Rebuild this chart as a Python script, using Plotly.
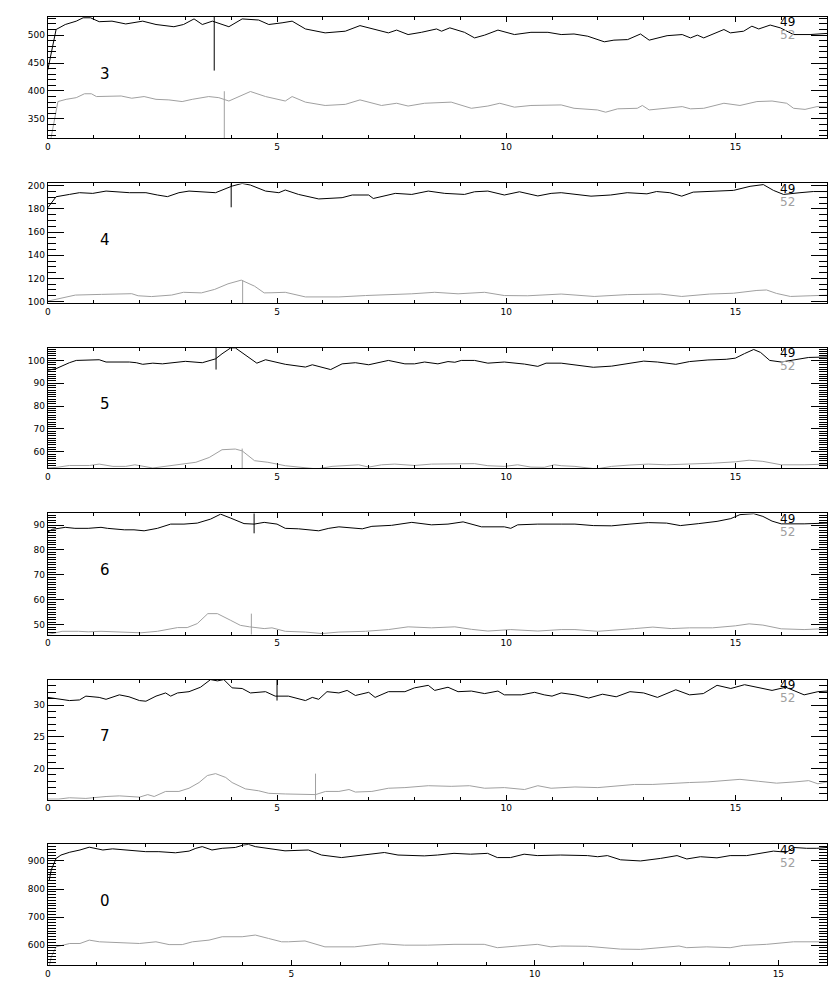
import plotly.graph_objects as go

# ---------------- data ----------------
panel_labels = ["3", "4", "5", "6", "7", "0"]
series_labels = ["49", "52"]
x_max = [17, 17, 17, 17, 17, 16]
y_min = [315.7, 98.6, 52.8, 46.0, 15.1, 528.6]
y_max = [532.6, 202.0, 105.5, 94.7, 33.95, 959.0]
y_major = [50, 20, 10, 10, 5, 100]
y_minor = [10, 5, 1, 1, 1, 10]
x_ticks = [0, 5, 10, 15]

# panel "3"
b3_x = [0, 0.18, 0.38, 0.62, 0.77, 0.93, 1.12, 1.4, 1.7, 2.07, 2.36, 2.75, 2.96, 3.19, 3.37, 3.59, 3.95, 4.24, 4.6, 4.82,
        5.11, 5.33, 5.62, 6.05, 6.49, 6.81, 7.43, 7.61, 7.86, 8.15, 8.48, 8.59, 8.77, 9.09, 9.31, 9.53, 9.82, 10.18, 10.54, 10.91,
        11.2, 11.48, 11.78, 12.14, 12.35, 12.65, 12.93, 13.12, 13.51, 13.84, 14.02, 14.17, 14.31, 14.75, 14.89, 15.18, 15.36, 15.51, 15.76, 15.98,
        16.27, 16.63, 17.0]
b3_y = [438, 510, 519, 525, 531, 531, 524, 525, 520, 525, 519, 515, 519, 529, 519, 525, 515, 529, 527, 519,
        522, 525, 511, 504, 507, 517, 504, 509, 501, 505, 511, 507, 513, 505, 495, 500, 509, 501, 505, 505,
        501, 502, 498, 488, 491, 492, 502, 491, 499, 501, 495, 500, 495, 510, 504, 507, 516, 511, 518, 513,
        501, 501, 503]
g3_x = [0.07, 0.22, 0.4, 0.62, 0.8, 0.95, 1.06, 1.4, 1.6, 1.83, 2.1, 2.36, 2.64, 2.93, 3.15, 3.51, 3.73, 3.95, 4.17, 4.42,
        4.75, 4.89, 5.18, 5.33, 5.62, 6.05, 6.49, 6.81, 7.28, 7.61, 7.86, 8.22, 8.8, 9.24, 9.6, 9.86, 10.18, 10.54, 10.91, 11.2,
        11.48, 11.99, 12.17, 12.43, 12.86, 12.97, 13.12, 13.37, 13.66, 13.84, 14.02, 14.31, 14.75, 15.1, 15.47, 15.8, 16.12, 16.27, 16.52, 16.78,
        17.0]
g3_y = [316, 381, 385, 388, 395, 395, 390, 390, 391, 387, 390, 385, 384, 381, 385, 390, 388, 382, 390, 399,
        390, 387, 382, 390, 380, 374, 376, 384, 374, 378, 373, 378, 380, 369, 373, 378, 371, 374, 374, 375,
        369, 366, 362, 368, 369, 374, 366, 368, 371, 372, 368, 369, 378, 374, 381, 382, 378, 369, 367, 372,
        371]

# panel "4"
b4_x = [0, 0.18, 0.47, 0.69, 0.98, 1.27, 1.78, 2.14, 2.39, 2.61, 2.86, 3.08, 3.66, 4.02, 4.24, 4.42, 4.75, 5.04, 5.18, 5.47,
        5.91, 6.42, 6.64, 7.0, 7.1, 7.58, 7.94, 8.3, 8.66, 9.09, 9.31, 9.6, 9.96, 10.29, 10.69, 10.98, 11.2, 11.56, 11.85, 12.28,
        12.64, 13.07, 13.28, 13.57, 13.83, 14.08, 14.52, 14.96, 15.32, 15.61, 15.83, 16.05, 16.41, 16.7, 17.0]
b4_y = [181, 190.5, 192.5, 194, 193.4, 195.4, 194, 194, 192, 190.6, 194, 195.4, 194, 199.7, 202, 200.6, 195.4, 194, 196.3, 192.5,
        188.6, 189.7, 192, 192, 189, 193.4, 192.5, 195.4, 193.4, 192.5, 194.8, 195.4, 192, 194.8, 191.2, 193.4, 194, 192.5, 191, 192,
        194, 193, 195, 194, 191, 194.5, 195, 196, 199.5, 201, 196, 192.5, 194, 195, 195]
g4_x = [0, 0.2, 0.6, 1.17, 1.83, 1.97, 2.26, 2.7, 2.96, 3.35, 3.64, 3.93, 4.22, 4.51, 4.72, 4.89, 5.18, 5.62, 6.35, 6.93,
        7.5, 7.94, 8.44, 8.95, 9.53, 9.96, 10.47, 10.98, 11.2, 11.92, 12.64, 13.36, 13.83, 14.44, 14.96, 15.47, 15.68, 15.9, 16.2, 16.63,
        17.0]
g4_y = [100.4, 102, 105.6, 106.2, 106.8, 105, 104.3, 105.6, 108, 107.5, 110.5, 115.3, 118.5, 113.3, 107.5, 107.6, 108, 104, 104, 105.2,
        105.8, 106.7, 108, 106.7, 108, 105.2, 105, 105.8, 106.5, 104.4, 106, 106.5, 104.4, 106.5, 107.2, 109.6, 110, 107, 104.4, 105,
        105.5]

# panel "5"
b5_x = [0, 0.18, 0.47, 0.62, 1.12, 1.27, 1.78, 1.93, 2.07, 2.29, 2.5, 2.72, 3.0, 3.37, 3.66, 3.8, 3.99, 4.09, 4.31, 4.56,
        4.75, 5.04, 5.18, 5.62, 5.77, 6.17, 6.42, 6.71, 7.0, 7.43, 7.79, 8.0, 8.22, 8.51, 8.73, 8.88, 9.02, 9.31, 9.6, 9.96,
        10.4, 10.69, 10.87, 11.2, 11.5, 11.9, 12.3, 12.6, 13.0, 13.3, 13.7, 14.0, 14.4, 14.8, 15.0, 15.2, 15.4, 15.55, 15.75, 16.0,
        16.3, 16.6, 17.0]
b5_y = [95.7, 96.4, 99, 100, 100.3, 99.3, 99.3, 99, 98.3, 98.8, 98.5, 99, 99.6, 99, 100.7, 102.9, 105.5, 105.5, 102.2, 98.8,
        100.3, 99, 98.3, 97.1, 98.1, 96, 98.5, 99, 98.1, 100, 98.5, 98.5, 99.3, 98.5, 99.5, 99.2, 100, 100, 98.8, 99.3,
        98.4, 97.4, 98.8, 98.8, 98, 97, 97.5, 98.5, 99.7, 99.3, 98.3, 99.5, 100.2, 100.5, 101, 103, 104.8, 103.5, 100, 99.3,
        100.3, 101.3, 101.5]
g5_x = [0, 0.2, 0.47, 0.91, 1.12, 1.42, 1.7, 1.9, 2.29, 2.58, 2.94, 3.23, 3.52, 3.8, 4.09, 4.24, 4.51, 4.8, 5.18, 5.47,
        5.87, 6.2, 6.78, 7.0, 7.28, 7.57, 8.0, 8.37, 8.88, 9.31, 9.6, 9.96, 10.25, 10.54, 10.83, 11.05, 11.2, 11.5, 11.96, 12.3,
        12.7, 13.1, 13.5, 14.0, 14.5, 15.0, 15.3, 15.6, 16.0, 16.5, 17.0]
g5_y = [52.9, 53.2, 54, 54, 54.6, 53.6, 53.6, 54.3, 52.9, 53.6, 54.6, 55.4, 57.5, 60.9, 61.2, 60.4, 56.1, 55.4, 53.9, 53.3,
        52.5, 53.6, 54.3, 53.3, 54.3, 54.6, 54, 54.6, 54.6, 54.8, 53.9, 53.6, 54.3, 53.3, 53.2, 54.3, 53.9, 53.6, 52.5, 53.6,
        54.2, 54.6, 54.3, 54.6, 55, 55.6, 56.3, 55.8, 54.3, 54.3, 54.6]

# panel "6"
b6_x = [0, 0.1, 0.38, 0.59, 0.88, 1.16, 1.3, 1.67, 1.88, 2.1, 2.39, 2.68, 2.97, 3.26, 3.55, 3.77, 3.99, 4.28, 4.5, 4.72,
        5.0, 5.18, 5.47, 5.91, 6.13, 6.35, 6.86, 7.07, 7.5, 7.94, 8.37, 8.73, 9.06, 9.46, 9.96, 10.1, 10.25, 10.69, 11.2, 11.5,
        11.9, 12.3, 12.7, 13.1, 13.5, 13.8, 14.2, 14.6, 14.9, 15.1, 15.4, 15.6, 15.8, 16.0, 16.5, 17.0]
b6_y = [87.3, 88.3, 89.1, 88.7, 88.7, 89.1, 88.7, 88.1, 88.1, 87.7, 88.7, 90.4, 90.4, 90.8, 92.4, 94.4, 92.8, 90.6, 90.4, 91.1,
        90.4, 88.7, 88.5, 87.7, 88.7, 89.3, 88.5, 89.5, 89.9, 91.1, 90.1, 90.4, 91.3, 89.3, 89.3, 88.7, 90.1, 90.4, 90.4, 90.4,
        89.8, 89.7, 90.4, 91.0, 90.8, 89.8, 90.6, 91.5, 92.6, 94.2, 94.6, 93.5, 91.6, 90.5, 90.5, 90.8]
g6_x = [0, 0.1, 0.31, 0.67, 0.88, 1.16, 1.59, 2.03, 2.39, 2.83, 3.04, 3.26, 3.49, 3.7, 3.99, 4.2, 4.4, 4.72, 4.89, 5.18,
        5.62, 5.98, 6.35, 6.93, 7.43, 7.86, 8.37, 8.88, 9.24, 9.6, 10.1, 10.69, 11.2, 11.5, 12.0, 12.4, 12.8, 13.2, 13.6, 14.0,
        14.5, 15.0, 15.3, 15.6, 16.0, 16.5, 17.0]
g6_y = [46, 46.4, 47.3, 47.3, 47.1, 47.3, 47.1, 46.7, 47.3, 48.8, 48.8, 50.4, 54.4, 54.4, 51.7, 49.7, 49.1, 48.4, 48.7, 47.3,
        47, 46.4, 47, 47.3, 48, 49.1, 48.7, 49.1, 48.1, 47.4, 48, 47.4, 48, 48, 47.3, 47.7, 48.4, 49, 48.4, 48.7,
        48.7, 49.5, 50.3, 49.8, 48.3, 48, 48.4]

# panel "7"
b7_x = [0, 0.24, 0.47, 0.69, 0.83, 1.12, 1.27, 1.56, 1.77, 2.0, 2.14, 2.36, 2.57, 2.68, 2.83, 3.08, 3.33, 3.55, 3.7, 3.84,
        4.02, 4.24, 4.42, 4.75, 4.96, 5.25, 5.62, 5.77, 5.91, 6.09, 6.35, 6.53, 6.71, 7.0, 7.14, 7.43, 7.79, 8.0, 8.3, 8.44,
        8.73, 8.95, 9.24, 9.53, 9.82, 9.96, 10.33, 10.62, 10.83, 11.0, 11.2, 11.5, 11.8, 12.1, 12.4, 12.7, 13.0, 13.3, 13.7, 14.0,
        14.3, 14.6, 14.9, 15.2, 15.5, 15.8, 16.1, 16.5, 16.8, 17.0]
b7_y = [31.2, 30.9, 30.7, 30.8, 31.4, 31.2, 30.9, 31.6, 31.3, 30.7, 30.6, 31.4, 31.9, 31.4, 31.9, 32.1, 32.8, 34, 33.8, 34,
        32.7, 32.6, 31.9, 32.1, 31.4, 31.4, 30.7, 31.2, 30.9, 32.1, 31.9, 32.3, 31.5, 32, 31.2, 32.1, 32.1, 32.7, 33.1, 32.3,
        32.8, 32.1, 32.2, 31.8, 32.2, 31.6, 31.6, 32, 31.6, 31.4, 31.9, 31.6, 31.1, 31.7, 31.3, 32.1, 31.9, 31.2, 32.4, 31.6,
        31.8, 33.1, 32.6, 33.2, 32.8, 32.3, 32.8, 31.6, 32.1, 32.2]
g7_x = [0, 0.24, 0.47, 0.83, 1.27, 1.56, 2.0, 2.18, 2.32, 2.57, 2.86, 3.08, 3.3, 3.48, 3.66, 3.88, 4.02, 4.31, 4.6, 4.82,
        5.18, 5.54, 5.84, 6.06, 6.35, 6.57, 6.71, 7.07, 7.43, 7.79, 8.3, 8.8, 9.2, 9.53, 9.96, 10.4, 10.69, 10.98, 11.2, 11.5,
        12.0, 12.4, 12.8, 13.2, 13.6, 14.0, 14.4, 14.8, 15.1, 15.5, 15.9, 16.3, 16.6, 16.8, 17.0]
g7_y = [15.2, 15.2, 15.4, 15.3, 15.6, 15.7, 15.5, 15.9, 15.6, 16.4, 16.4, 16.9, 17.8, 18.9, 19.2, 18.6, 17.8, 16.8, 16.5, 16.1,
        16.0, 15.9, 15.9, 16.4, 16.4, 16.7, 16.3, 16.4, 16.9, 17.0, 17.3, 17.2, 17.3, 16.9, 17.0, 16.7, 17.3, 16.9, 17.0, 17.1,
        17.0, 17.2, 17.5, 17.5, 17.7, 17.8, 17.9, 18.1, 18.3, 18.0, 17.7, 17.9, 18.1, 17.6, 17.9]

# panel "0"
b0_x = [0.03, 0.07, 0.17, 0.27, 0.45, 0.66, 0.85, 0.99, 1.13, 1.33, 1.6, 1.74, 2.01, 2.28, 2.62, 2.9, 3.04, 3.17, 3.37, 3.58,
        3.85, 4.02, 4.12, 4.26, 4.53, 4.87, 5.35, 5.62, 6.03, 6.37, 6.91, 7.19, 7.73, 8.0, 8.34, 8.68, 9.03, 9.23, 9.5, 9.78,
        10.05, 10.53, 11.08, 11.29, 11.49, 11.76, 12.17, 12.58, 12.92, 13.12, 13.4, 13.74, 14.01, 14.35, 14.62, 14.9, 15.17, 15.31, 15.58, 15.79,
        16.0]
b0_y = [832, 868, 909, 921, 931, 939, 949, 945, 939, 943, 939, 935, 933, 933, 929, 935, 945, 951, 939, 945,
        948, 957, 959, 951, 945, 936, 939, 921, 912, 918, 930, 921, 918, 921, 927, 924, 927, 912, 912, 924,
        919, 921, 919, 915, 919, 904, 900, 909, 919, 907, 915, 911, 919, 919, 927, 935, 931, 948, 945, 945,
        948]
g0_x = [0.03, 0.07, 0.17, 0.45, 0.66, 0.85, 1.06, 1.4, 1.88, 2.22, 2.49, 2.76, 2.97, 3.31, 3.58, 3.99, 4.26, 4.53, 4.8, 4.94,
        5.28, 5.69, 6.3, 6.85, 7.32, 7.8, 8.34, 8.96, 9.23, 9.64, 10.05, 10.33, 10.53, 11.08, 11.76, 12.17, 12.58, 12.96, 13.12, 13.53,
        14.01, 14.28, 14.76, 15.31, 16.0]
g0_y = [526, 558, 594, 606, 606, 618, 612, 609, 606, 612, 602, 602, 612, 618, 630, 630, 636, 624, 612, 612,
        615, 594, 594, 605, 600, 600, 603, 603, 591, 597, 603, 594, 597, 596, 586, 585, 591, 597, 591, 594,
        591, 599, 603, 612, 612]

black_series = [(b3_x, b3_y), (b4_x, b4_y), (b5_x, b5_y), (b6_x, b6_y), (b7_x, b7_y), (b0_x, b0_y)]
gray_series = [(g3_x, g3_y), (g4_x, g4_y), (g5_x, g5_y), (g6_x, g6_y), (g7_x, g7_y), (g0_x, g0_y)]

# vertical marker lines (black: from value up to top, gray: from bottom up to value)
mark_black_x = [3.63, 4.0, 3.67, 4.5, 5.0]
mark_black_y = [436.5, 181.4, 96.0, 86.7, 30.7]
mark_gray_x = [3.85, 4.25, 4.24, 4.44, 5.84]
mark_gray_y = [399.5, 118.5, 61.4, 54.4, 19.2]

# ---------------- layout ----------------
W, H = 840, 1000
left_px, right_px = 45, 827
tops_px = [14, 181.7, 347.3, 514, 681.7, 847.3]
bots_px = [136, 302.3, 468.5, 636, 802.3, 969]

BLACK = "#000000"
GRAY = "#a0a0a0"
tick_font = dict(family="DejaVu Sans", size=9, color="black")

fig = go.Figure()
layout = dict(
    width=W, height=H, margin=dict(l=0, r=0, t=0, b=0),
    paper_bgcolor="white", plot_bgcolor="white", showlegend=False,
)
annotations = []


def clean(xs, ys):
    m = min(len(xs), len(ys))
    return xs[:m], ys[:m]


for i in range(6):
    n = "" if i == 0 else str(i + 1)
    xa, ya = "x" + n, "y" + n
    xd = [left_px / W, right_px / W]
    yd = [1 - bots_px[i] / H, 1 - tops_px[i] / H]
    ph = bots_px[i] - tops_px[i]

    gx, gy = clean(*gray_series[i])
    bx, by = clean(*black_series[i])
    fig.add_trace(go.Scatter(x=gx, y=gy, mode="lines", line=dict(color=GRAY, width=1),
                             xaxis=xa, yaxis=ya, hoverinfo="skip"))
    fig.add_trace(go.Scatter(x=bx, y=by, mode="lines", line=dict(color=BLACK, width=1),
                             xaxis=xa, yaxis=ya, hoverinfo="skip"))
    if i < len(mark_black_x):
        fig.add_trace(go.Scatter(x=[mark_black_x[i], mark_black_x[i]], y=[mark_black_y[i], y_max[i] + 1000],
                                 mode="lines", line=dict(color=BLACK, width=1), xaxis=xa, yaxis=ya, hoverinfo="skip"))
        fig.add_trace(go.Scatter(x=[mark_gray_x[i], mark_gray_x[i]], y=[y_min[i] - 1000, mark_gray_y[i]],
                                 mode="lines", line=dict(color=GRAY, width=1), xaxis=xa, yaxis=ya, hoverinfo="skip"))

    layout["xaxis" + n] = dict(
        domain=xd, anchor=ya, range=[0, x_max[i]],
        tickmode="array", tickvals=x_ticks, ticktext=[str(v) for v in x_ticks],
        ticks="inside", ticklen=5, tickwidth=1, tickcolor="black",
        minor=dict(dtick=1, tick0=0, ticks="inside", ticklen=3, tickwidth=1, tickcolor="black", showgrid=False),
        showline=True, linecolor="black", linewidth=1, mirror="ticks",
        showgrid=False, zeroline=False, tickfont=tick_font, fixedrange=True,
    )
    layout["yaxis" + n] = dict(
        domain=yd, anchor=xa, range=[y_min[i], y_max[i]],
        tick0=0, dtick=y_major[i],
        ticks="inside", ticklen=16, tickwidth=1, tickcolor="black",
        minor=dict(dtick=y_minor[i], tick0=0, ticks="inside", ticklen=8, tickwidth=1, tickcolor="black", showgrid=False),
        showline=True, linecolor="black", linewidth=1, mirror="ticks",
        showgrid=False, zeroline=False, tickfont=tick_font, fixedrange=True,
    )

    annotations.append(dict(text=panel_labels[i], xref=xa + " domain", yref=ya + " domain",
                            x=0.073, y=0.53, showarrow=False, xanchor="center", yanchor="middle",
                            font=dict(family="DejaVu Sans", size=15, color=BLACK)))
    annotations.append(dict(text=series_labels[0], xref=xa + " domain", yref=ya + " domain",
                            x=0.949, y=1 - 5.5 / ph, showarrow=False, xanchor="center", yanchor="middle",
                            borderpad=0, font=dict(family="DejaVu Sans", size=12, color=BLACK)))
    annotations.append(dict(text=series_labels[1], xref=xa + " domain", yref=ya + " domain",
                            x=0.949, y=1 - 18.5 / ph, showarrow=False, xanchor="center", yanchor="middle",
                            borderpad=0, font=dict(family="DejaVu Sans", size=12, color=GRAY)))

layout["annotations"] = annotations
fig.update_layout(**layout)
fig.write_html("out.html", config={"displayModeBar": False},
               post_script="document.body.style.margin='0px';document.body.style.overflow='hidden';")
